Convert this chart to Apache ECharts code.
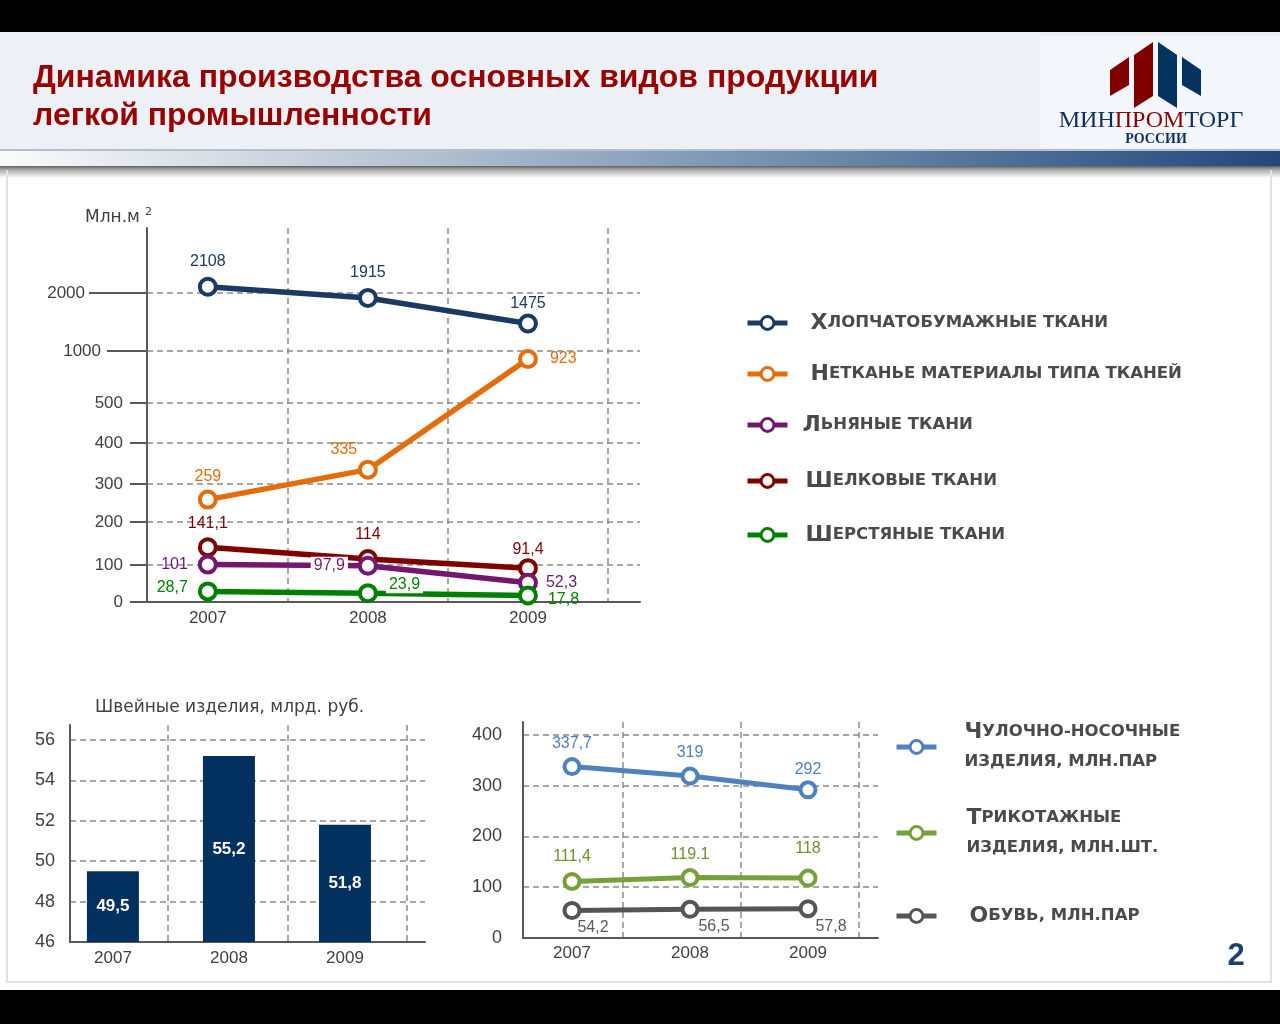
<!DOCTYPE html>
<html><head><meta charset="utf-8">
<script src="https://cdn.jsdelivr.net/npm/echarts@6/dist/echarts.min.js"></script>
<style>html,body{margin:0;padding:0;background:#fff}#c{width:1280px;height:1024px}</style>
</head><body><div id="c"></div>
<script>
// ---------- data ----------
const years = [2007, 2008, 2009];
// top chart, млн. м²
const cottonFabrics = [2108, 1915, 1475];
const nonwovenFabrics = [259, 335, 923];
const linenFabrics = [101, 97.9, 52.3];
const silkFabrics = [141.1, 114, 91.4];
const woolFabrics = [28.7, 23.9, 17.8];
const topTickValues = [0, 100, 200, 300, 400, 500, 1000, 2000];
// sewing products, млрд. руб.
const sewingProducts = [49.5, 55.2, 51.8];
const sewingTicks = [46, 48, 50, 52, 54, 56];
// bottom-right chart
const hosiery = [337.7, 319, 292];
const knitwear = [111.4, 119.1, 118];
const footwear = [54.2, 56.5, 57.8];
const bottomTicks = [0, 100, 200, 300, 400];

// ---------- piecewise (broken) scale of the top chart's value axis ----------
const topTickSpan = [0, 37, 80, 118, 159, 199, 251, 309]; // axis units at each tick value
function toTopAxis(v) {
  const t = topTickValues, p = topTickSpan;
  for (let i = 0; i < t.length - 1; i++) {
    if (v <= t[i + 1]) return p[i] + (v - t[i]) / (t[i + 1] - t[i]) * (p[i + 1] - p[i]);
  }
  const n = t.length - 1;
  return p[n] + (v - t[n]) / (t[n] - t[n - 1]) * (p[n] - p[n - 1]);
}
const fmt = v => String(v).replace('.', ',');

const FONT = 'Liberation Sans';
const AX = '#404040';
const dash = { color: '#8a8a8a', width: 1.5, type: [6, 4] };

function lineSeries(name, values, color, labelColor, places, xi, mapFn, size, width) {
  return {
    type: 'line', name: name, xAxisIndex: xi, yAxisIndex: xi,
    data: years.map((y, i) => ({ value: [y, mapFn(values[i])], label: places[i] })),
    symbol: 'circle', symbolSize: size,
    lineStyle: { color: color, width: width },
    itemStyle: { color: '#fff', borderColor: color, borderWidth: 4 },
    label: { show: true, color: labelColor, fontSize: 16, fontFamily: FONT,
      formatter: p => fmt(values[p.dataIndex]) },
    emphasis: { disabled: true }, animation: false
  };
}
const id = v => v;
const wb = { backgroundColor: '#fff', padding: [1, 3] };

const series = [
  lineSeries('Хлопчатобумажные ткани', cottonFabrics, '#1b3a63', '#1b3a63',
    [{ position: 'top', distance: 7 }, { position: 'top', distance: 7 }, { position: 'top', distance: 2 }], 0, toTopAxis, 16, 5.5),
  lineSeries('Нетканье материалы типа тканей', nonwovenFabrics, '#e46c0a', '#e46c0a',
    [{ position: 'top', distance: 5 }, { position: 'top', distance: 2, offset: [-24, 0] }, { position: 'right', distance: 12 }], 0, toTopAxis, 16, 5.5),
  lineSeries('Шелковые ткани', silkFabrics, '#800000', '#800000',
    [{ position: 'top', distance: 6 }, { position: 'top', distance: 6 }, { position: 'top', distance: 1 }], 0, toTopAxis, 16, 5.5),
  lineSeries('Льняные ткани', linenFabrics, '#72186f', '#72186f',
    [{ position: 'left', distance: 10 }, Object.assign({ position: 'left', distance: 10 }, wb), { position: 'right', distance: 8 }], 0, toTopAxis, 16, 5.5),
  lineSeries('Шерстяные ткани', woolFabrics, '#008000', '#008000',
    [{ position: 'left', distance: 10, offset: [0, -4] }, Object.assign({ position: 'right', distance: 8, offset: [0, -9] }, wb), { position: 'right', distance: 10, offset: [0, 4] }], 0, toTopAxis, 16, 5.5),
  {
    type: 'bar', name: 'Швейные изделия', xAxisIndex: 1, yAxisIndex: 1,
    data: years.map((y, i) => [y, sewingProducts[i]]),
    barWidth: 52, itemStyle: { color: '#03315f' },
    label: { show: true, position: 'inside', color: '#fff', fontWeight: 'bold', fontSize: 17, fontFamily: FONT,
      formatter: p => fmt(sewingProducts[p.dataIndex]) },
    emphasis: { disabled: true }, animation: false
  },
  lineSeries('Чулочно-носочные\nизделия, млн.пар', hosiery, '#4f81bd', '#4f81bd',
    [{ position: 'top', distance: 6 }, { position: 'top', distance: 6 }, { position: 'top', distance: 3 }], 2, id, 15, 5),
  lineSeries('Трикотажные\nизделия, млн.шт.', knitwear, '#77a03a', '#6e8f2e',
    [{ position: 'top', distance: 7 }, { position: 'top', distance: 5, formatter: () => '119.1' }, { position: 'top', distance: 12 }], 2, id, 15, 5),
  lineSeries('Обувь, млн.пар', footwear, '#555555', '#5a5a5a',
    [{ position: 'bottom', distance: 0, offset: [21, 0] }, { position: 'bottom', distance: 0, offset: [24, 0] }, { position: 'bottom', distance: 0, offset: [23, 0] }], 2, id, 15, 5)
];

function smallCaps(text) {
  return text.split('\n').map((ln, li) => li === 0
    ? '{b|' + ln[0] + '}{s|' + ln.slice(1).toUpperCase() + '}'
    : '{s|' + ln.toUpperCase() + '}').join('\n');
}
const LFONT = 'DejaVu Sans';
function legendItem(name, left, top, pad, lh) {
  return {
    data: [name], left: left, top: top, orient: 'vertical', padding: 0,
    itemWidth: 40, itemHeight: 16, selectedMode: false,
    lineStyle: { width: 5 },
    itemStyle: { borderWidth: 3 },
    formatter: smallCaps,
    textStyle: {
      padding: [0, 0, 0, pad], color: '#474747',
      rich: {
        b: { fontSize: 22, fontWeight: 'bold', color: '#4a4a4a', fontFamily: LFONT, lineHeight: lh },
        s: { fontSize: 16.5, fontWeight: 'bold', color: '#4a4a4a', fontFamily: LFONT, lineHeight: lh }
      }
    }
  };
}
function tickOnlyAxis(values, len) {
  return { type: 'value', gridIndex: 0, min: 0, max: 374, position: 'left',
    axisLine: { show: false, onZero: false },
    axisTick: { show: true, length: len, customValues: values, lineStyle: { color: '#595959', width: 2 } },
    axisLabel: { show: false }, splitLine: { show: false } };
}

const option = {
  backgroundColor: '#fff',
  animation: false,
  grid: [
    { left: 147, top: 228, width: 493, height: 374 },
    { left: 70, top: 725, width: 355, height: 217 },
    { left: 523, top: 722, width: 355, height: 216 }
  ],
  xAxis: [
    { type: 'value', gridIndex: 0, min: 2006.62, max: 2009.7,
      axisLine: { show: true, onZero: false, lineStyle: { color: '#595959', width: 2 } },
      axisTick: { show: false, customValues: [2007.5, 2008.5, 2009.5] },
      axisLabel: { customValues: years, formatter: v => String(v), color: AX, fontSize: 17, fontFamily: FONT, margin: 8 },
      splitLine: { show: true, lineStyle: dash } },
    { type: 'value', gridIndex: 1, min: 2006.63, max: 2009.69,
      axisLine: { show: true, onZero: false, lineStyle: { color: '#595959', width: 2 } },
      axisTick: { show: false, customValues: [2007.47, 2008.51, 2009.53] },
      axisLabel: { customValues: years, formatter: v => String(v), color: AX, fontSize: 17, fontFamily: FONT, margin: 8 },
      splitLine: { show: true, lineStyle: dash } },
    { type: 'value', gridIndex: 2, min: 2006.585, max: 2009.593,
      axisLine: { show: true, onZero: false, lineStyle: { color: '#595959', width: 2 } },
      axisTick: { show: false, customValues: [2007.43, 2008.43, 2009.43] },
      axisLabel: { customValues: years, formatter: v => String(v), color: AX, fontSize: 17, fontFamily: FONT, margin: 7 },
      splitLine: { show: true, lineStyle: dash } }
  ],
  yAxis: [
    { type: 'value', gridIndex: 0, min: 0, max: 374,
      axisLine: { show: true, onZero: false, lineStyle: { color: '#595959', width: 2 } },
      axisTick: { show: true, length: 17, customValues: topTickSpan, lineStyle: { color: '#595959', width: 2 } },
      axisLabel: { customValues: topTickSpan, color: AX, fontSize: 17, fontFamily: FONT, margin: 24,
        formatter: v => {
          const i = topTickSpan.indexOf(v);
          const t = topTickValues[i];
          return t === 2000 ? '{w|' + t + '}' : t === 1000 ? '{k|' + t + '}' : String(t);
        },
        rich: { w: { fontSize: 17, color: AX, fontFamily: FONT, padding: [0, 38, 0, 0] },
                k: { fontSize: 17, color: AX, fontFamily: FONT, padding: [0, 22, 0, 0] } } },
      splitLine: { show: true, lineStyle: dash } },
    { type: 'value', gridIndex: 1, min: 46, max: 56.74,
      axisLine: { show: true, onZero: false, lineStyle: { color: '#595959', width: 2 } },
      axisTick: { show: false, customValues: sewingTicks },
      axisLabel: { customValues: sewingTicks, color: AX, fontSize: 18, fontFamily: FONT, margin: 15 },
      splitLine: { show: true, lineStyle: dash } },
    { type: 'value', gridIndex: 2, min: 0, max: 425.6,
      axisLine: { show: true, onZero: false, lineStyle: { color: '#595959', width: 2 } },
      axisTick: { show: false, customValues: bottomTicks },
      axisLabel: { customValues: bottomTicks, color: AX, fontSize: 18, fontFamily: FONT, margin: 21 },
      splitLine: { show: true, lineStyle: dash } },
    tickOnlyAxis([topTickSpan[7]], 58),
    tickOnlyAxis([topTickSpan[6]], 40)
  ],
  legend: [
    legendItem('Хлопчатобумажные ткани', 745, 312, 18, 26),
    legendItem('Нетканье материалы типа тканей', 745, 363, 18, 26),
    legendItem('Льняные ткани', 745, 414, 10, 26),
    legendItem('Шелковые ткани', 745, 470, 13, 26),
    legendItem('Шерстяные ткани', 745, 524, 13, 26),
    legendItem('Чулочно-носочные\nизделия, млн.пар', 894, 721, 23, 30),
    legendItem('Трикотажные\nизделия, млн.шт.', 894, 807, 25, 30),
    legendItem('Обувь, млн.пар', 894, 905, 28, 30)
  ],
  graphic: { elements: [
    { type: 'rect', z: -10, shape: { x: 0, y: 0, width: 1280, height: 32 }, style: { fill: '#000' } },
    { type: 'rect', z: -10, shape: { x: 0, y: 32, width: 1280, height: 118 }, style: { fill: '#edf1f6' } },
    { type: 'rect', z: -9, shape: { x: 1040, y: 36, width: 240, height: 112 }, style: { fill: '#f3f6fa' } },
    { type: 'rect', z: -9, shape: { x: 0, y: 149, width: 1280, height: 2 }, style: { fill: '#b4bfcd' } },
    { type: 'rect', z: -9, shape: { x: 0, y: 151, width: 1280, height: 15 }, style: { fill: {
      type: 'linear', x: 0, y: 0, x2: 1, y2: 0, colorStops: [
        { offset: 0, color: '#fafbfc' }, { offset: 0.31, color: '#b8c4d3' },
        { offset: 0.7, color: '#5f7fa3' }, { offset: 1, color: '#23477d' }] } } },
    { type: 'rect', z: -9, shape: { x: 0, y: 166, width: 1280, height: 12 }, style: { fill: {
      type: 'linear', x: 0, y: 0, x2: 0, y2: 1, colorStops: [
        { offset: 0, color: '#606060' }, { offset: 0.3, color: '#a8a8a8' }, { offset: 1, color: '#ffffff' }] } } },
    { type: 'rect', z: -9, shape: { x: 6, y: 170, width: 2, height: 813 }, style: { fill: '#e2e2e2' } },
    { type: 'rect', z: -9, shape: { x: 1270, y: 170, width: 2, height: 813 }, style: { fill: '#e2e2e2' } },
    { type: 'rect', z: -9, shape: { x: 6, y: 981, width: 1266, height: 2 }, style: { fill: '#e2e2e2' } },
    { type: 'rect', z: -10, shape: { x: 0, y: 990, width: 1280, height: 34 }, style: { fill: '#000' } },
    // logo
    { type: 'polygon', z: 5, shape: { points: [[1110, 70], [1129, 57], [1129, 85], [1110, 96]] }, style: { fill: '#800000' } },
    { type: 'polygon', z: 5, shape: { points: [[1134, 55], [1153, 42], [1153, 96], [1134, 108]] }, style: { fill: '#800000' } },
    { type: 'polygon', z: 5, shape: { points: [[1158, 42], [1177, 55], [1177, 108], [1158, 96]] }, style: { fill: '#033160' } },
    { type: 'polygon', z: 5, shape: { points: [[1182, 57], [1201, 70], [1201, 96], [1182, 85]] }, style: { fill: '#033160' } },
    { type: 'text', z: 5, x: 1151, y: 121, style: {
      text: '{b|МИН}{r|ПРОМ}{b|ТОРГ}', textAlign: 'center', textVerticalAlign: 'middle',
      rich: { b: { fontSize: 24, fontFamily: 'Liberation Serif', fill: '#0c2f5f' },
              r: { fontSize: 24, fontFamily: 'Liberation Serif', fill: '#8a0000' } } } },
    { type: 'text', z: 5, x: 1156, y: 139, style: { text: 'РОССИИ', textAlign: 'center', textVerticalAlign: 'middle',
      fontSize: 14, fontWeight: 'bold', fontFamily: 'Liberation Serif', fill: '#0c2f5f' } },
    // title
    { type: 'text', z: 5, x: 33, y: 59, style: {
      text: 'Динамика производства основных видов продукции\nлегкой промышленности',
      fontSize: 32, fontWeight: 'bold', fontFamily: FONT, fill: '#990000', lineHeight: 38 } },
    // axis unit & small chart title
    { type: 'text', z: 5, x: 85, y: 218, style: {
      text: '{a|Млн.м}{s|2}', textVerticalAlign: 'middle',
      rich: { a: { fontSize: 17, fontFamily: 'DejaVu Sans', fill: '#404040', lineHeight: 22 },
              s: { fontSize: 11, fontFamily: 'DejaVu Sans', fill: '#404040', verticalAlign: 'top', lineHeight: 22, padding: [0, 0, 0, 5] } } } },
    { type: 'text', z: 5, x: 95, y: 708, style: { text: 'Швейные изделия, млрд. руб.', textVerticalAlign: 'middle',
      fontSize: 17, fontFamily: 'DejaVu Sans', fill: '#404040' } },
    // page number
    { type: 'text', z: 5, x: 1236, y: 956, style: { text: '2', textAlign: 'center', textVerticalAlign: 'middle',
      fontSize: 31, fontWeight: 'bold', fontFamily: FONT, fill: '#1f3f73' } }
  ] },
  series: series
};

const chart = echarts.init(document.getElementById('c'), null, { renderer: 'canvas' });
chart.setOption(option);
</script>
</body></html>
